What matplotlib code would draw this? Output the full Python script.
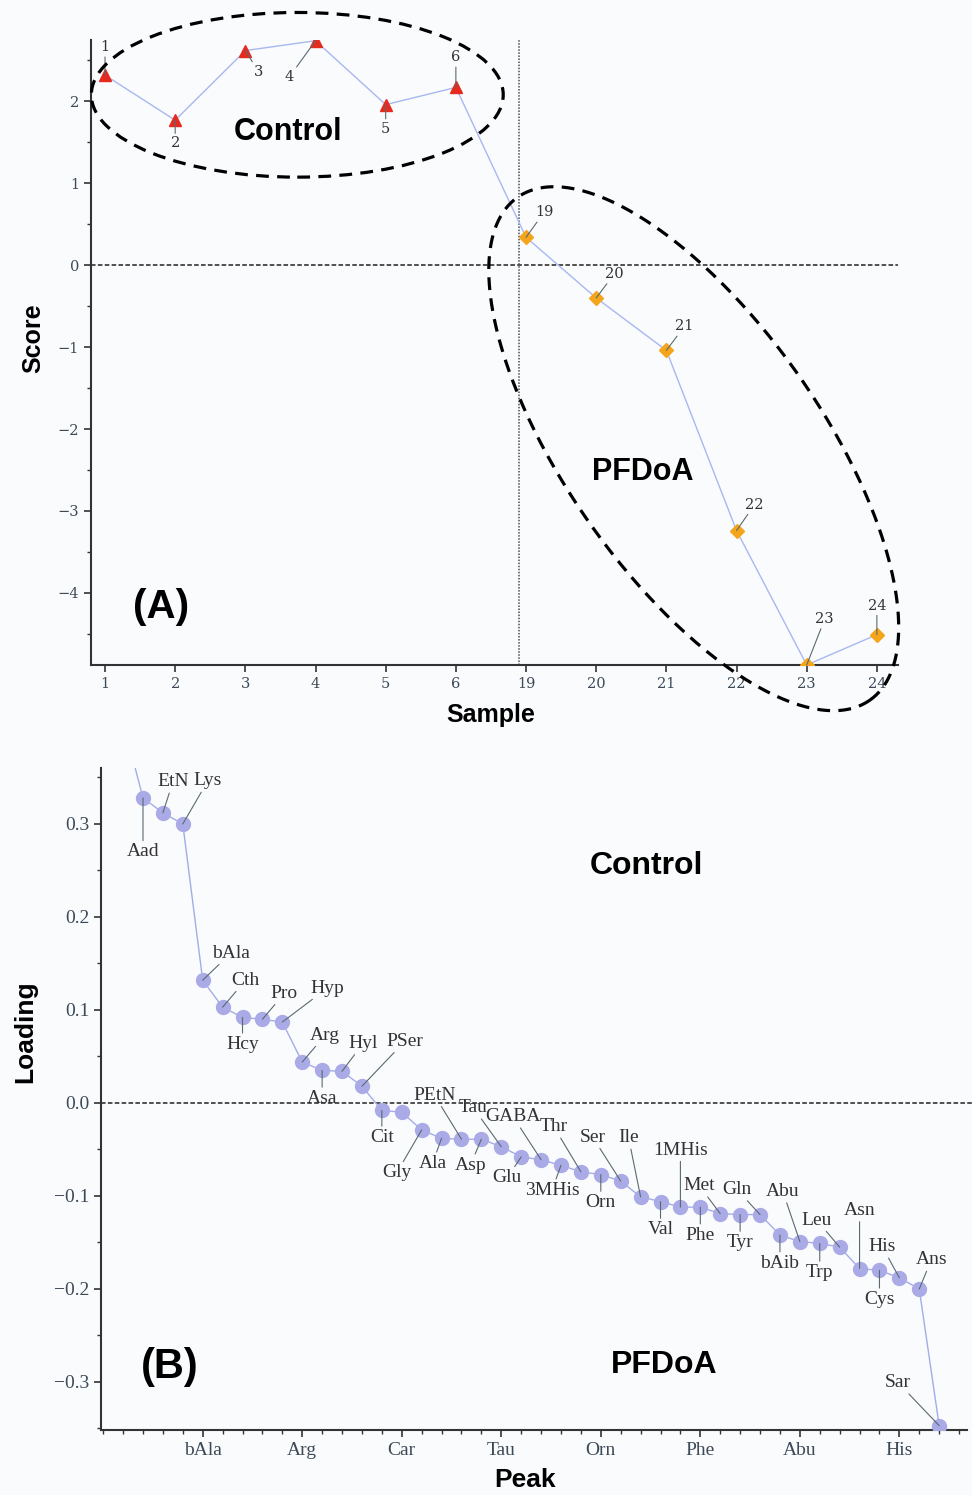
import numpy as np
import matplotlib.pyplot as plt
from matplotlib.patches import Ellipse
from matplotlib.ticker import MultipleLocator, FixedLocator

# (A) sample scores
samples = ['1', '2', '3', '4', '5', '6', '19', '20', '21', '22', '23', '24']
scores = [2.32, 1.77, 2.62, 2.74, 1.96, 2.17, 0.34, -0.40, -1.04, -3.24, -4.88, -4.51]
n_control = 6

# (B) peak loadings (first point lies above the plotted range)
peaks = ['', 'Aad', 'EtN', 'Lys', 'bAla', 'Cth', 'Hcy', 'Pro', 'Hyp', 'Arg', 'Asa',
         'Hyl', 'PSer', 'Cit', 'Car', 'Gly', 'Ala', 'PEtN', 'Asp', 'Tau', 'Glu',
         'GABA', '3MHis', 'Thr', 'Orn', 'Ser', 'Ile', 'Val', '1MHis', 'Phe', 'Met',
         'Tyr', 'Gln', 'bAib', 'Abu', 'Trp', 'Leu', 'Asn', 'Cys', 'His', 'Ans', 'Sar']
loadings = [0.41, 0.328, 0.312, 0.300, 0.132, 0.103, 0.092, 0.090, 0.087, 0.044, 0.035,
            0.034, 0.018, -0.008, -0.010, -0.029, -0.038, -0.039, -0.039, -0.047, -0.058,
            -0.061, -0.067, -0.074, -0.077, -0.084, -0.101, -0.106, -0.112, -0.112, -0.119,
            -0.120, -0.120, -0.142, -0.149, -0.151, -0.155, -0.178, -0.180, -0.188, -0.200, -0.347]
peak_ticks = ['bAla', 'Arg', 'Car', 'Tau', 'Orn', 'Phe', 'Abu', 'His']

# label offsets in pixels (dx right, dy down)
score_offsets = [(0, -28), (0, 23), (13, 21), (-26, 36), (0, 24), (0, -30),
                 (18, -25), (18, -24), (18, -24), (18, -26), (18, -46), (0, -29)]
peak_offsets = {
    'Aad': (0, 54), 'EtN': (10, -31), 'Lys': (25, -43), 'bAla': (28, -27),
    'Cth': (23, -27), 'Hcy': (0, 27), 'Pro': (22, -26), 'Hyp': (45, -34),
    'Arg': (23, -27), 'Asa': (0, 28), 'Hyl': (21, -28), 'PSer': (43, -45),
    'Cit': (0, 27), 'Gly': (-25, 43), 'Ala': (-9, 25), 'PEtN': (-27, -44),
    'Asp': (-11, 26), 'Tau': (-28, -39), 'Glu': (-14, 21), 'GABA': (-28, -43),
    '3MHis': (-9, 25), 'Thr': (-27, -45), 'Orn': (0, 28), 'Ser': (-28, -44),
    'Ile': (-12, -59), 'Val': (0, 28), '1MHis': (0, -57), 'Phe': (0, 28),
    'Met': (-21, -28), 'Tyr': (0, 28), 'Gln': (-23, -25), 'bAib': (0, 28),
    'Abu': (-17, -50), 'Trp': (0, 29), 'Leu': (-23, -27), 'Asn': (0, -58),
    'Cys': (0, 29), 'His': (-17, -31), 'Ans': (12, -29), 'Sar': (-41, -43),
}

bg = '#fafbfd'
tick_col = '#3c4a58'
lead_col = '#5a6a70'
sans = 'Liberation Sans'

fig = plt.figure(figsize=(9.72, 14.95), dpi=100, facecolor=bg)

# ---------------- (A) ----------------
ax1 = fig.add_axes([0.0936, 0.5552, 0.8302, 0.4181], facecolor=bg)
x1 = np.arange(len(samples))
ax1.plot(x1, scores, '-', color='#a8b8f0', lw=1.0, zorder=2)
ax1.plot(x1[:n_control], scores[:n_control], '^', color='#e52a1e', ms=9, zorder=3)
ax1.plot(x1[n_control:], scores[n_control:], 'D', color='#f4a51c', ms=7.5, zorder=3)
ax1.set_xlim(-0.2, 11.3)
ax1.set_ylim(-4.88, 2.75)
ax1.axhline(0, color='#222222', ls=(0, (3, 1.5)), lw=1.1, zorder=1)
ax1.axvline(5.9, color='#44505a', ls=(0, (1, 1)), lw=1.1, zorder=1)

for i, (s, v) in enumerate(zip(samples, scores)):
    dx, dy = score_offsets[i]
    ax1.annotate(s, (i, v), xytext=(dx, -dy), textcoords='offset pixels',
                 ha='center', va='center', fontsize=10.5, family='DejaVu Serif',
                 color='#333333',
                 arrowprops=dict(arrowstyle='-', color=lead_col, lw=0.8,
                                 shrinkA=0, shrinkB=0))

ax1.set_xticks(x1)
ax1.set_xticklabels(samples)
ax1.yaxis.set_minor_locator(MultipleLocator(0.5))
ax1.set_yticks([-4, -3, -2, -1, 0, 1, 2])
ax1.set_yticklabels(['\u22124', '\u22123', '\u22122', '\u22121', '0', '1', '2'])
for sp in ['top', 'right']:
    ax1.spines[sp].set_visible(False)
for sp in ['left', 'bottom']:
    ax1.spines[sp].set_linewidth(1.5)
    ax1.spines[sp].set_color('#333333')
ax1.tick_params(which='major', length=5, width=1.2, color='#333333',
                labelsize=10.5, labelcolor=tick_col)
ax1.tick_params(which='minor', length=3, width=1.0, color='#333333')
for lab in ax1.get_xticklabels() + ax1.get_yticklabels():
    lab.set_family('DejaVu Serif')

# group ellipses
ax1.add_patch(Ellipse((2.74, 2.08), 5.87, 2.01, fill=False, ec='black', lw=2.3,
                      ls=(0, (4, 2.6)), clip_on=False, zorder=4))
fig.canvas.draw()
ppx = ax1.bbox.width / (11.3 + 0.2)
ppy = ax1.bbox.height / (2.75 + 4.88)
t = np.linspace(0, 2 * np.pi, 400)
a, b, ang = 307, 128, np.deg2rad(-55)
ex = a * np.cos(t) * np.cos(ang) - b * np.sin(t) * np.sin(ang)
ey = a * np.cos(t) * np.sin(ang) + b * np.sin(t) * np.cos(ang)
ax1.plot(8.39 + ex / ppx, -2.24 + ey / ppy, color='black', lw=2.3,
         ls=(0, (4, 2.6)), clip_on=False, zorder=4)

ax1.text(2.61, 1.62, 'Control', fontsize=22, fontweight='bold', family=sans,
         ha='center', va='center')
ax1.text(7.67, -2.52, 'PFDoA', fontsize=22, fontweight='bold', family=sans,
         ha='center', va='center')
ax1.text(0.8, -4.17, '(A)', fontsize=29, fontweight='bold', family=sans,
         ha='center', va='center')
fig.text(33 / 972, 1 - 338 / 1495, 'Score', rotation=90, fontsize=18,
         fontweight='bold', family=sans, ha='center', va='center')
fig.text(491 / 972, 1 - 715 / 1495, 'Sample', fontsize=18,
         fontweight='bold', family=sans, ha='center', va='center')

# ---------------- (B) ----------------
ax2 = fig.add_axes([0.1039, 0.0435, 0.891, 0.4428], facecolor=bg)
x2 = np.arange(len(peaks))
ax2.plot(x2, loadings, '-', color='#a3ace8', lw=1.0, zorder=2)
ax2.plot(x2, loadings, 'o', color='#aaaae6', ms=10, zorder=3)
ax2.set_xlim(-1.11, 42.4)
ax2.set_ylim(-0.3516, 0.3602)
ax2.axhline(0, color='#222222', ls=(0, (3, 1.5)), lw=1.1, zorder=1, clip_on=False,
            xmax=1.01)

for i, (p, v) in enumerate(zip(peaks, loadings)):
    if p not in peak_offsets:
        continue
    dx, dy = peak_offsets[p]
    ax2.annotate(p, (i, v), xytext=(dx, -dy), textcoords='offset pixels',
                 ha='center', va='center', fontsize=14, family='Liberation Serif',
                 color='#333333',
                 arrowprops=dict(arrowstyle='-', color=lead_col, lw=0.8,
                                 shrinkA=0, shrinkB=0))

ax2.xaxis.set_major_locator(FixedLocator([peaks.index(p) for p in peak_ticks]))
ax2.set_xticklabels(peak_ticks)
ax2.xaxis.set_minor_locator(MultipleLocator(1))
ax2.yaxis.set_minor_locator(MultipleLocator(0.05))
ax2.set_yticks([-0.3, -0.2, -0.1, 0.0, 0.1, 0.2, 0.3])
ax2.set_yticklabels(['\u22120.3', '\u22120.2', '\u22120.1', '0.0', '0.1', '0.2', '0.3'])
for sp in ['top', 'right']:
    ax2.spines[sp].set_visible(False)
for sp in ['left', 'bottom']:
    ax2.spines[sp].set_linewidth(1.5)
    ax2.spines[sp].set_color('#333333')
ax2.tick_params(which='major', length=5, width=1.2, color='#333333',
                labelsize=14, labelcolor=tick_col)
ax2.tick_params(which='minor', length=3, width=1.0, color='#333333')
for lab in ax2.get_xticklabels() + ax2.get_yticklabels():
    lab.set_family('Liberation Serif')

ax2.text(26.3, 0.255, 'Control', fontsize=23, fontweight='bold', family=sans,
         ha='center', va='center')
ax2.text(27.2, -0.282, 'PFDoA', fontsize=23, fontweight='bold', family=sans,
         ha='center', va='center')
ax2.text(2.36, -0.284, '(B)', fontsize=30, fontweight='bold', family=sans,
         ha='center', va='center')
fig.text(25 / 972, 1 - 1032 / 1495, 'Loading', rotation=90, fontsize=19,
         fontweight='bold', family=sans, ha='center', va='center')
fig.text(525 / 972, 1 - 1480 / 1495, 'Peak', fontsize=19,
         fontweight='bold', family=sans, ha='center', va='center')

fig.savefig('out.png', dpi=100, facecolor=bg)
